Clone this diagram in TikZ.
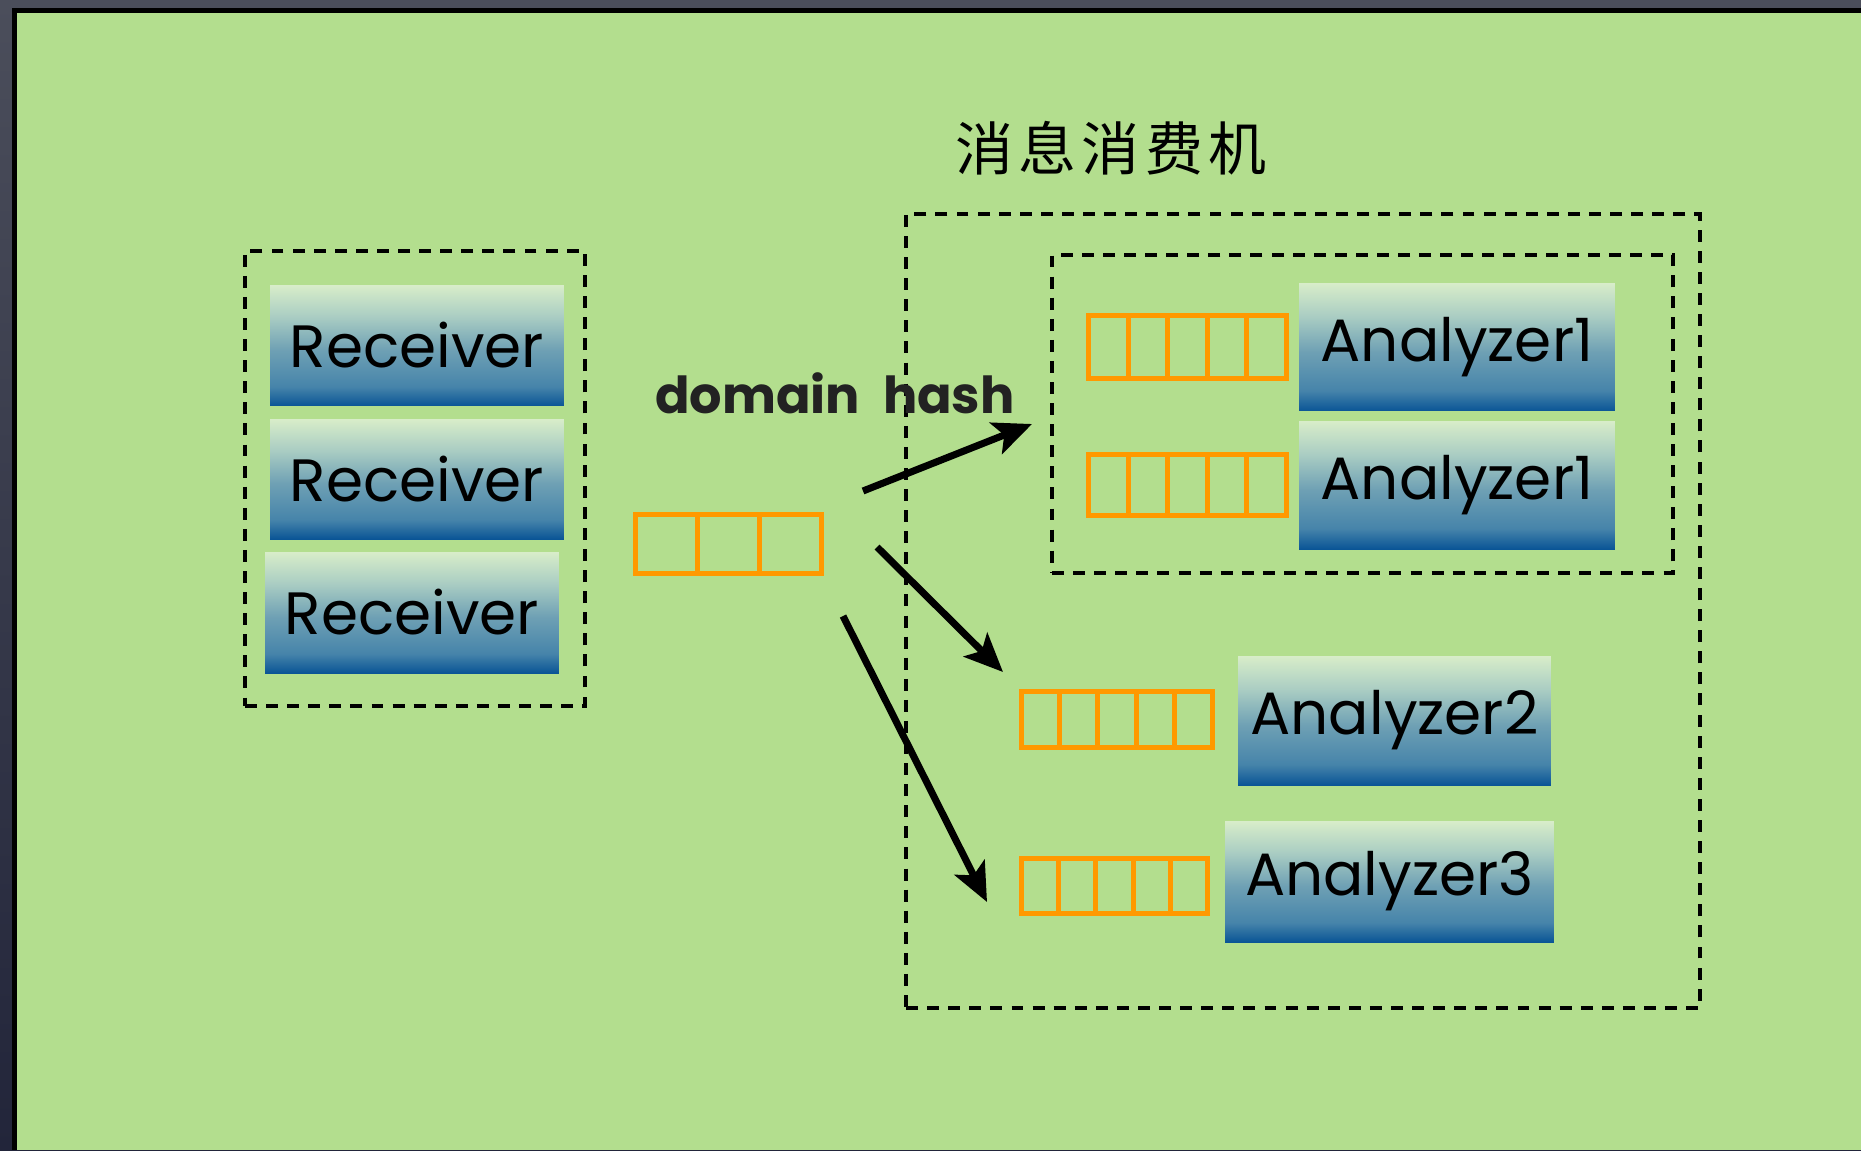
\documentclass[tikz,border=0pt]{standalone}
\usepackage{fontspec}
\setmainfont{Poppins}
\newfontfamily\cjkfont{Noto Sans CJK SC}[LetterSpace=9]
\usetikzlibrary{arrows.meta,calc}
\definecolor{bggreen}{HTML}{B3DE8E}
\definecolor{frameA}{HTML}{4B4E5B}
\definecolor{frameB}{HTML}{22253A}
\definecolor{qorange}{HTML}{FF9900}
\definecolor{labelgray}{HTML}{222222}
\definecolor{sTop}{RGB}{216,237,201}
\definecolor{sUp}{RGB}{170,205,195}
\definecolor{sMid}{RGB}{110,160,180}
\definecolor{sLow}{RGB}{70,132,170}
\definecolor{sBot}{RGB}{10,85,150}
\pgfdeclareverticalshading{procshade}{100bp}{color(0bp)=(sBot); color(25bp)=(sBot); color(33bp)=(sLow); color(48bp)=(sMid); color(62bp)=(sUp); color(75bp)=(sTop); color(100bp)=(sTop)}
\tikzset{
  procbox/.style={shading=procshade, inner sep=0pt, outer sep=0pt, text=black,
    font=\fontsize{34}{40}\selectfont},
  queuebox/.style={draw=qorange, line width=2.8pt, inner sep=0pt, outer sep=0pt},
  qline/.style={draw=qorange, line width=2.8pt},
  grpbox/.style={draw=black, line width=2.7pt, dash pattern=on 6.8pt off 5.2pt, inner sep=0pt, outer sep=0pt},
  flow/.style={draw=black, line width=4pt, -{Stealth[length=22pt,width=19pt,inset=5pt]}},
}
\begin{document}
\begin{tikzpicture}[x=0.02cm,y=-0.02cm]
\useasboundingbox (0,0) rectangle (1861,1150);
% frame and background
\shade[top color=frameA, bottom color=frameB] (0,0) rectangle (1861,1150);
\fill[black] (12,8) rectangle (1861,1150);
\fill[bggreen] (17,13) rectangle (1861,1150);

% group boxes
\node[grpbox, minimum width=6.8cm, minimum height=9.1cm] (rgroup) at (415,478.5) {};
\node[grpbox, minimum width=15.88cm, minimum height=15.88cm] (consumer) at (1303,611) {};
\node[grpbox, minimum width=12.42cm, minimum height=6.36cm] (a1group) at (1362.5,414) {};

% title
\node[font=\cjkfont\fontsize{33}{38}\selectfont, text=black] (title) at (1111,148) {消息消费机};

% receivers
\node[procbox, minimum width=5.88cm, minimum height=2.42cm] (r1) at (417,345.5) {Receiver};
\node[procbox, minimum width=5.88cm, minimum height=2.40cm] (r2) at (417,479) {Receiver};
\node[procbox, minimum width=5.88cm, minimum height=2.42cm] (r3) at (412,612.5) {Receiver};

% analyzers
\node[procbox, minimum width=6.32cm, minimum height=2.56cm] (a1a) at (1457,347) {Analyzer1};
\node[procbox, minimum width=6.32cm, minimum height=2.56cm] (a1b) at (1457,485) {Analyzer1};
\node[procbox, minimum width=6.26cm, minimum height=2.58cm] (a2) at (1394.5,720.5) {Analyzer2};
\node[procbox, minimum width=6.58cm, minimum height=2.42cm] (a3) at (1389.5,881.5) {Analyzer3};

% queues
\node[queuebox, minimum width=3.72cm, minimum height=1.18cm] (lq) at (728.5,544) {};
\node[queuebox, minimum width=3.96cm, minimum height=1.26cm] (q1a) at (1187.5,347) {};
\node[queuebox, minimum width=3.96cm, minimum height=1.22cm] (q1b) at (1187.5,485) {};
\node[queuebox, minimum width=3.82cm, minimum height=1.12cm] (q2) at (1117,719.5) {};
\node[queuebox, minimum width=3.72cm, minimum height=1.10cm] (q3) at (1114.5,886) {};
\foreach \q/\n in {lq/3,q1a/5,q1b/5,q2/5,q3/5}{
  \pgfmathtruncatemacro\m{\n-1}
  \foreach \i in {1,...,\m}{
    \draw[qline] ($(\q.north west)!\i/\n!(\q.north east)$) -- ($(\q.south west)!\i/\n!(\q.south east)$);
  }
}

% label
\node[anchor=base, text=labelgray, font=\bfseries\fontsize{29}{35}\selectfont] (hash) at (835,413) {domain\hspace{0.45em}hash};

% arrows
\coordinate (a1s) at (863,491);
\coordinate (a1e) at (1032,424);
\coordinate (a2s) at (877,547);
\coordinate (a2e) at (1003,672);
\coordinate (a3s) at (843,616);
\coordinate (a3e) at (987,902);
\draw[flow] (a1s) -- (a1e);
\draw[flow] (a2s) -- (a2e);
\draw[flow] (a3s) -- (a3e);
\end{tikzpicture}
\end{document}
